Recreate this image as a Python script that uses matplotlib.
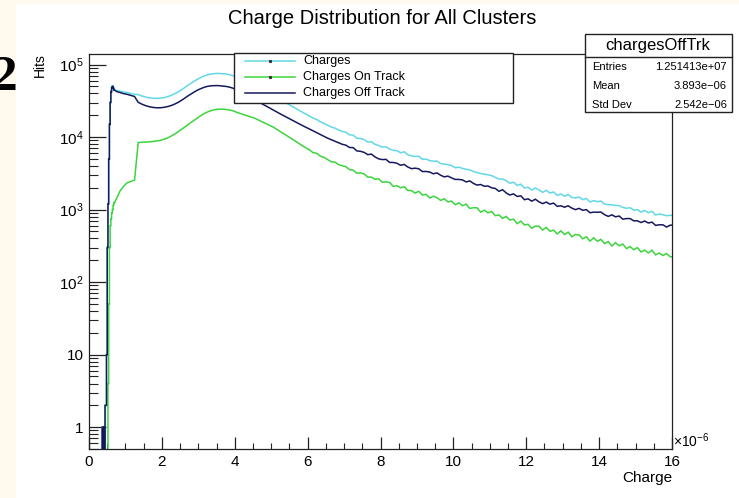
import numpy as np
import matplotlib
matplotlib.use('Agg')
import matplotlib.pyplot as plt
from matplotlib.patches import Rectangle
from matplotlib.lines import Line2D
from matplotlib.ticker import LogLocator, NullFormatter, FuncFormatter, MultipleLocator

plt.rcParams['font.family'] = ['Liberation Sans', 'DejaVu Sans']
plt.rcParams['mathtext.fontset'] = 'custom'
plt.rcParams['mathtext.rm'] = 'Liberation Sans'
plt.rcParams['mathtext.it'] = 'Liberation Sans:italic'

# ---------------- data (charge in units of 1e-6) ----------------
# bins: [0,0.30], fine 0.02-wide bins up to 0.70, then 0.1-wide bins up to 16
bin_edges = np.concatenate([[0.0],
                            np.round(np.arange(0.30, 0.70001, 0.02), 2),
                            np.round(np.arange(0.8, 16.0001, 0.1), 1)])
n_fine = 21  # bins drawn as exact steps (the sharp rise region)

charges_off = [0,
    0, 0, 0, 1, 0, 1, 0, 2, 2, 10, 300, 1200, 5000, 15000, 30000, 42000, 48000, 50000, 47000, 44500,
    42700, 41200, 39800, 38900, 37600, 36300, 30200, 28500, 27200, 26300, 25700, 25400, 25400, 25700,
    26300, 27200, 28500, 30200, 32400, 35100, 38000, 40700, 43700, 46200, 48400, 50100, 51000, 51300,
    51300, 50700, 50100, 49000, 47300,
    44700, 42700, 40300, 38000, 35500, 32700, 30700, 28800, 27000, 25300,
    23700, 22300, 20900, 19700, 18500, 17400, 16400, 15400, 14500, 13700,
    12900, 12200, 11500, 10800, 10200, 9660, 9200, 8770, 8360, 7960,
    7740, 7190, 7160, 6450, 6370, 6160, 5730, 5830, 5330, 5010,
    4900, 4930, 4480, 4470, 4360, 4090, 4200, 3870, 3670, 3730,
    3660, 3350, 3360, 3300, 3120, 3210, 2980, 2830, 2900, 2740,
    2610, 2610, 2570, 2410, 2490, 2300, 2180, 2220, 2100, 2120,
    2000, 1960, 1790, 1880, 1700, 1590, 1650, 1520, 1550, 1370,
    1410, 1310, 1390, 1280, 1210, 1270, 1190, 1230, 1110, 1130,
    1080, 1130, 1050, 1000, 1040, 979, 1000, 906, 923, 920,
    925, 852, 807, 847, 796, 816, 738, 753, 753, 701,
    701, 664, 696, 654, 672, 606, 618, 617, 575, 610]

charges_on = [0,
    0, 0, 0, 0, 0, 0, 0, 0, 0, 0, 0, 4, 50, 300, 600, 750, 900, 1000, 1150, 1250,
    1400, 1800, 2100, 2350, 2450, 2550, 8400, 8500, 8550, 8600, 8700, 8850, 9000, 9300,
    9700, 10300, 11000, 11900, 12900, 14000, 15300, 16600, 18000, 19500, 21000, 22200, 23200, 23900,
    24300, 24300, 24100, 23700, 23100,
    22000, 21200, 20400, 19600, 18900, 18200, 17200, 16300, 15400, 14600,
    13800, 12800, 11900, 11100, 10300, 9550, 8870, 8240, 7660, 7110,
    6680, 6100, 5980, 5460, 5250, 4900, 4570, 4520, 4170, 4040,
    3910, 3560, 3500, 3180, 3220, 3110, 2810, 2810, 2620, 2660,
    2380, 2420, 2370, 2090, 2140, 2000, 2070, 1840, 1830, 1690,
    1790, 1590, 1620, 1450, 1530, 1460, 1340, 1410, 1280, 1310,
    1170, 1240, 1130, 1190, 1040, 1060, 1060, 923, 980, 902,
    944, 825, 845, 758, 807, 719, 739, 641, 694, 615,
    627, 554, 592, 590, 523, 569, 503, 521, 463, 509,
    454, 489, 423, 452, 449, 396, 422, 368, 409, 366,
    389, 340, 363, 316, 349, 318, 335, 290, 309, 280,
    299, 261, 276, 253, 276, 238, 252, 233, 248, 224]

charges_all = [0,
    0, 0, 0, 1, 0, 1, 0, 2, 2, 10, 300, 1204, 5050, 15300, 30600, 42750, 48900, 51000, 48150, 45750,
    44100, 43000, 41900, 41250, 40050, 38850, 38600, 37000, 35750, 34900, 34400, 34250, 34400, 35000,
    36000, 37500, 39500, 42100, 45300, 49100, 53300, 57300, 61700, 65700, 69400, 72300, 74200, 75200,
    75600, 75000, 74200, 72700, 70400,
    66700, 63900, 60700, 57600, 54400, 50900, 47900, 45100, 42400, 39900,
    37500, 35100, 32800, 30800, 28800, 26950, 25270, 23640, 22160, 20810,
    19580, 18300, 17480, 16260, 15450, 14560, 13770, 13290, 12530, 12000,
    11650, 10750, 10660, 9630, 9590, 9270, 8540, 8640, 7950, 7670,
    7280, 7350, 6850, 6560, 6500, 6090, 6270, 5710, 5500, 5420,
    5450, 4940, 4980, 4750, 4650, 4670, 4320, 4240, 4180, 4050,
    3780, 3850, 3700, 3600, 3530, 3360, 3240, 3143, 3080, 3022,
    2944, 2785, 2635, 2638, 2507, 2309, 2389, 2161, 2244, 1985,
    2037, 1864, 1982, 1870, 1733, 1839, 1693, 1751, 1573, 1639,
    1534, 1619, 1473, 1452, 1489, 1375, 1422, 1274, 1332, 1286,
    1314, 1192, 1170, 1163, 1145, 1134, 1073, 1043, 1062, 981,
    1000, 925, 972, 907, 948, 844, 870, 850, 823, 834]

series_names = ['Charges', 'Charges On Track', 'Charges Off Track']
stats_title = 'chargesOffTrk'
stats_rows = [('Entries', '1.251413e+07'), ('Mean', '3.893e\u221206'), ('Std Dev', '2.542e\u221206')]

# ---------------- figure ----------------
W, H = 739, 498
fig = plt.figure(figsize=(W / 100, H / 100), dpi=100, facecolor='#fff9ee')

def fx(px):
    return px / W

def fy(py):
    return 1 - py / H

fig.text(fx(18), fy(78), '2', ha='right', va='center', fontsize=37,
         family='Liberation Serif', weight='bold', color='black', zorder=-3)
fig.add_artist(Rectangle((fx(16), 0), 1, fy(4), transform=fig.transFigure,
                         facecolor='white', edgecolor='none', zorder=-2))

ax = fig.add_axes([fx(89), fy(449), fx(672) - fx(89), fy(54) - fy(449)])
ax.set_facecolor('white')
ax.set_yscale('log')
ax.set_xlim(0, 16)
ax.set_ylim(0.5, 1.4e5)


def hist_path(vals):
    """Histogram outline: exact steps in the fine region, bin centres beyond."""
    v = np.where(np.asarray(vals, float) > 0, np.asarray(vals, float), 1e-3)
    xs, ys = [], []
    for i in range(n_fine):
        xs += [bin_edges[i], bin_edges[i + 1]]
        ys += [v[i], v[i]]
    for i in range(n_fine, len(v)):
        xs.append(0.5 * (bin_edges[i] + bin_edges[i + 1]))
        ys.append(v[i])
    xs.append(bin_edges[-1])
    ys.append(v[-1])
    return np.array(xs), np.array(ys)


colors = ['#62d8e6', '#3cd43c', '#15195c']
for vals, col in zip([charges_all, charges_on, charges_off], colors):
    xs, ys = hist_path(vals)
    ax.plot(xs, ys, color=col, lw=1.1, solid_joinstyle='miter')

for s in ax.spines.values():
    s.set_linewidth(0.9)
    s.set_color('#222222')

ax.xaxis.set_major_locator(MultipleLocator(2))
ax.xaxis.set_minor_locator(MultipleLocator(0.5))
ax.yaxis.set_major_locator(LogLocator(base=10, numticks=10))
ax.yaxis.set_minor_locator(LogLocator(base=10, subs=np.arange(2, 10), numticks=20))
ax.yaxis.set_minor_formatter(NullFormatter())


def yfmt(v, pos):
    e = int(round(np.log10(v)))
    if e == 0:
        return '1'
    if e == 1:
        return '10'
    return r'$10^{%d}$' % e


ax.yaxis.set_major_formatter(FuncFormatter(yfmt))
ax.xaxis.set_major_formatter(FuncFormatter(lambda v, p: '%d' % v))

ax.tick_params(axis='both', which='both', direction='in', top=False, right=False,
               colors='#222222', labelcolor='black')
ax.tick_params(axis='y', which='major', length=12.3, width=0.9, labelsize=11, pad=4)
ax.tick_params(axis='y', which='minor', length=6.2, width=0.8)
ax.tick_params(axis='x', which='major', length=8.6, width=0.9, labelsize=11, pad=4)
ax.tick_params(axis='x', which='minor', length=4.3, width=0.8)

# axis titles (ROOT style)
fig.text(fx(40), fy(53), 'Hits', rotation=90, ha='center', va='top', fontsize=10)
fig.text(fx(672), fy(478), 'Charge', ha='right', va='center', fontsize=11)
fig.text(fx(673), fy(441), r'$\times10^{-6}$', ha='left', va='center', fontsize=10)

# title
fig.text(fx(382), fy(18), 'Charge Distribution for All Clusters', ha='center', va='center',
         fontsize=14.5)

# legend box
lx0, lx1, ly0, ly1 = 234, 513, 53, 103
fig.add_artist(Rectangle((fx(lx0), fy(ly1)), fx(lx1) - fx(lx0), fy(ly0) - fy(ly1),
                         transform=fig.transFigure, facecolor='white', edgecolor='#222222',
                         lw=1.0, zorder=3))
for k, (name, col, yy) in enumerate(zip(series_names, colors, [61, 77, 93])):
    fig.add_artist(Line2D([fx(245), fx(295)], [fy(yy), fy(yy)], transform=fig.transFigure,
                          color=col, lw=1.1, zorder=4))
    if k < 2:
        fig.add_artist(Line2D([fx(270)], [fy(yy)], transform=fig.transFigure, marker='s',
                              ms=1.2, color='#333333', lw=0, zorder=5))
    fig.text(fx(303), fy(yy), name, ha='left', va='center', fontsize=9, zorder=4)

# stats box
sx0, sx1, sy0, sy1 = 585, 732, 34, 112
fig.add_artist(Rectangle((fx(sx0), fy(sy1)), fx(sx1) - fx(sx0), fy(sy0) - fy(sy1),
                         transform=fig.transFigure, facecolor='white', edgecolor='#222222',
                         lw=1.0, zorder=3))
fig.add_artist(Line2D([fx(sx0), fx(sx1)], [fy(57), fy(57)], transform=fig.transFigure,
                      color='#222222', lw=1.0, zorder=4))
fig.text(fx(658), fy(45.5), stats_title, ha='center', va='center', fontsize=12, zorder=4)
for (lab, val), yy in zip(stats_rows, [67.5, 86, 105]):
    fig.text(fx(592), fy(yy), lab, ha='left', va='center', fontsize=8, zorder=4)
    fig.text(fx(727), fy(yy), val, ha='right', va='center', fontsize=8, zorder=4)

fig.savefig('out.png', dpi=100, facecolor=fig.get_facecolor())
